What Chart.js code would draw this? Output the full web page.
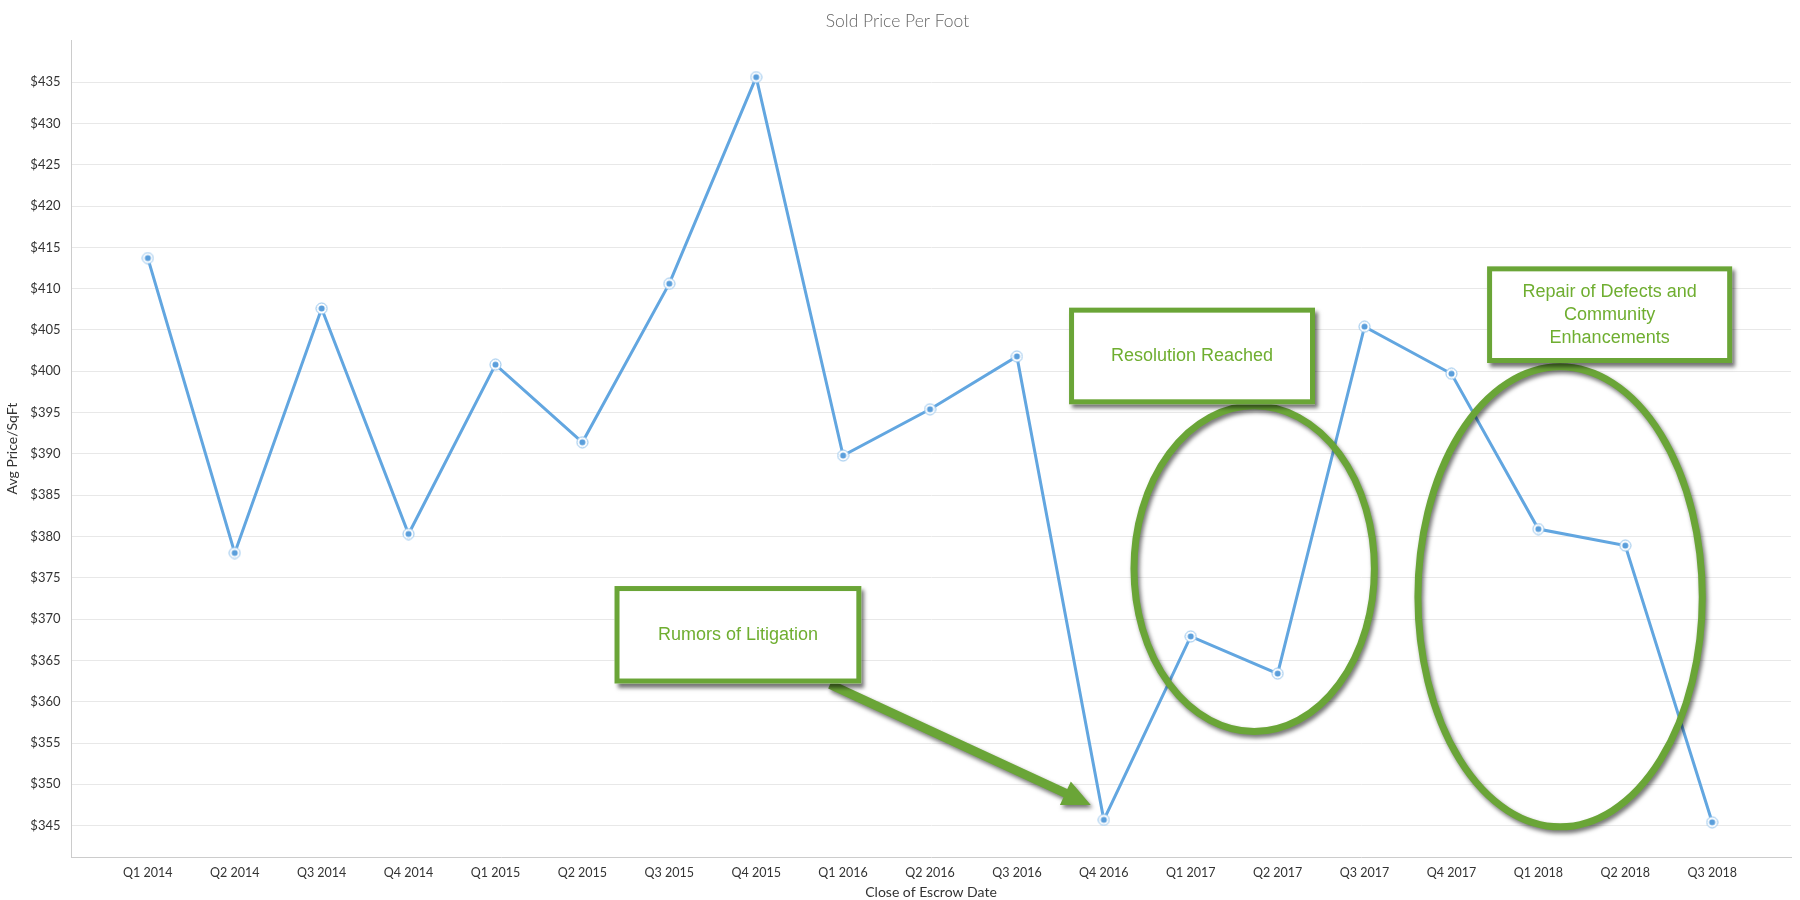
<!DOCTYPE html>
<html>
<head>
<meta charset="utf-8">
<title>Sold Price Per Foot</title>
<script src="https://cdn.jsdelivr.net/npm/chart.js@4.4.1/dist/chart.umd.min.js"></script>
<style>
    html, body { margin: 0; padding: 0; background: #fff; }
    #wrap { width: 1800px; height: 900px; }
</style>
</head>
<body>
<div id="wrap"><canvas id="priceChart" width="1800" height="900"></canvas></div>
<script>
// quarters on the x axis
const categories = ['Q1 2014', 'Q2 2014', 'Q3 2014', 'Q4 2014', 'Q1 2015', 'Q2 2015', 'Q3 2015', 'Q4 2015',
    'Q1 2016', 'Q2 2016', 'Q3 2016', 'Q4 2016', 'Q1 2017', 'Q2 2017', 'Q3 2017', 'Q4 2017',
    'Q1 2018', 'Q2 2018', 'Q3 2018'];

// average sold price per sq ft
const avgPrice = [413.7, 378.0, 407.6, 380.3, 400.8, 391.4, 410.6, 435.6,
    389.8, 395.4, 401.8, 345.7, 367.9, 363.4, 405.4, 399.7,
    380.9, 378.9, 345.4];

const yTicks = [345, 350, 355, 360, 365, 370, 375, 380, 385, 390, 395, 400, 405, 410, 415, 420, 425, 430, 435];

// callouts, placed in data units (x = quarter index, y = price)
const boxNotes = [
    { x0: 5.37, x1: 8.21, y0: 374.0, y1: 362.2, lines: ['Rumors of Litigation'] },
    { x0: 10.60, x1: 13.43, y0: 407.7, y1: 396.0, lines: ['Resolution Reached'] },
    { x0: 15.41, x1: 18.23, y0: 412.7, y1: 401.0, lines: ['Repair of Defects and', 'Community', 'Enhancements'] }
];
const ringNotes = [
    { x: 12.73, y: 376.1, rx: 1.383, ry: 19.72 },
    { x: 16.25, y: 372.7, rx: 1.636, ry: 27.85 }
];
const arrowNotes = [
    { x0: 7.85, y0: 362.1, x1: 10.85, y1: 347.5 }
];

const GREEN = '#6aa537';
const GREEN_TEXT = '#6fae30';
const SHADOW = 'rgba(0,0,0,0.55)';

// marker: blue dot with white ring and thin light outline
function makeMarker() {
    const c = document.createElement('canvas');
    c.width = 13; c.height = 13;
    const g = c.getContext('2d');
    g.beginPath(); g.arc(6.5, 6.5, 5.5, 0, Math.PI * 2);
    g.fillStyle = '#fff'; g.fill();
    g.lineWidth = 1; g.strokeStyle = '#8fc0ea'; g.stroke();
    g.beginPath(); g.arc(6.5, 6.5, 3, 0, Math.PI * 2);
    g.fillStyle = '#5a9edb'; g.fill();
    return c;
}

const notesPlugin = {
    id: 'notes',
    afterDatasetsDraw(chart) {
        const ctx = chart.ctx;
        const xs = chart.scales.x, ys = chart.scales.y;
        const px = v => xs.getPixelForValue(v);
        const py = v => ys.getPixelForValue(v);

        ctx.save();

        // ellipses
        ringNotes.forEach(r => {
            const cx = px(r.x), cy = py(r.y);
            const rx = px(r.x + r.rx) - cx, ry = py(r.y - r.ry) - cy;
            ctx.save();
            ctx.shadowColor = SHADOW;
            ctx.shadowBlur = 4;
            ctx.shadowOffsetX = 2;
            ctx.shadowOffsetY = 3;
            ctx.beginPath();
            ctx.ellipse(cx, cy, rx, ry, 0, 0, Math.PI * 2);
            ctx.lineWidth = 7;
            ctx.strokeStyle = GREEN;
            ctx.stroke();
            ctx.restore();
        });

        // arrows
        arrowNotes.forEach(a => {
            const x0 = px(a.x0), y0 = py(a.y0), x1 = px(a.x1), y1 = py(a.y1);
            const ang = Math.atan2(y1 - y0, x1 - x0);
            const len = Math.hypot(x1 - x0, y1 - y0);
            const shaft = 4.5, head = 13, headLen = 28;
            ctx.save();
            ctx.translate(x0, y0);
            ctx.rotate(ang);
            ctx.shadowColor = SHADOW;
            ctx.shadowBlur = 4;
            ctx.shadowOffsetX = 2;
            ctx.shadowOffsetY = 3;
            ctx.beginPath();
            ctx.moveTo(0, -shaft);
            ctx.lineTo(len - headLen, -shaft);
            ctx.lineTo(len - headLen, -head);
            ctx.lineTo(len, 0);
            ctx.lineTo(len - headLen, head);
            ctx.lineTo(len - headLen, shaft);
            ctx.lineTo(0, shaft);
            ctx.closePath();
            ctx.fillStyle = GREEN;
            ctx.fill();
            ctx.restore();
        });

        // text boxes
        boxNotes.forEach(b => {
            const l = px(b.x0), r = px(b.x1), t = py(b.y0), btm = py(b.y1);
            const w = r - l, h = btm - t;
            ctx.save();
            ctx.shadowColor = SHADOW;
            ctx.shadowBlur = 4;
            ctx.shadowOffsetX = 3;
            ctx.shadowOffsetY = 4;
            ctx.fillStyle = '#fff';
            ctx.fillRect(l, t, w, h);
            ctx.restore();
            ctx.lineWidth = 5;
            ctx.strokeStyle = GREEN;
            ctx.strokeRect(l + 2.5, t + 2.5, w - 5, h - 5);

            ctx.fillStyle = GREEN_TEXT;
            ctx.font = '18px "Liberation Sans", Arial, sans-serif';
            ctx.textAlign = 'center';
            ctx.textBaseline = 'middle';
            const lh = 23;
            const startY = t + h / 2 - (b.lines.length - 1) * lh / 2;
            b.lines.forEach((line, i) => ctx.fillText(line, l + w / 2, startY + i * lh));
        });

        ctx.restore();
    }
};

const ctx = document.getElementById('priceChart').getContext('2d');
const priceChart = new Chart(ctx, {
    type: 'line',
    data: {
        datasets: [{
            label: 'Avg Price/SqFt',
            data: avgPrice.map((v, i) => ({ x: i, y: v })),
            borderColor: '#62a6e0',
            borderWidth: 3,
            tension: 0,
            pointStyle: makeMarker(),
            pointRadius: 6,
            pointHoverRadius: 6
        }]
    },
    options: {
        responsive: false,
        animation: false,
        devicePixelRatio: 1,
        layout: { padding: { left: 0, right: 5, top: 0, bottom: 0 } },
        plugins: {
            legend: { display: false },
            tooltip: { enabled: false },
            title: {
                display: true,
                text: 'Sold Price Per Foot',
                color: '#666',
                font: { family: 'Lato', size: 17.5, weight: 300, lineHeight: 1.2 },
                padding: { top: 10.5, bottom: 8.5 }
            }
        },
        scales: {
            x: {
                type: 'linear',
                min: -0.884,
                max: 18.907,
                afterBuildTicks: scale => { scale.ticks = categories.map((c, i) => ({ value: i })); },
                afterFit: scale => { scale.height = 43; },
                grid: { display: false, drawTicks: false },
                border: { color: '#ccc', width: 1 },
                ticks: {
                    autoSkip: false,
                    maxRotation: 0,
                    padding: 8.5,
                    color: '#333',
                    font: { family: 'Lato', size: 12.5 },
                    callback: v => categories[v]
                },
                title: {
                    display: true,
                    text: 'Close of Escrow Date',
                    color: '#333',
                    font: { family: 'Lato', size: 14, lineHeight: 1 },
                    padding: { top: 0, bottom: 0.3 }
                }
            },
            y: {
                min: 341.2,
                max: 440.1,
                afterBuildTicks: scale => { scale.ticks = yTicks.map(v => ({ value: v })); },
                afterFit: scale => { scale.width = 71; },
                grid: { color: '#e8e8e8', drawTicks: false },
                border: { color: '#ccc', width: 1 },
                ticks: {
                    padding: 10.5,
                    color: '#333',
                    font: { family: 'Lato', size: 13 },
                    callback: v => '$' + v
                },
                title: {
                    display: true,
                    text: 'Avg Price/SqFt',
                    color: '#333',
                    font: { family: 'Lato', size: 14, lineHeight: 1 },
                    padding: { top: 5, bottom: 0 }
                }
            }
        }
    },
    plugins: [notesPlugin]
});
</script>
</body>
</html>
